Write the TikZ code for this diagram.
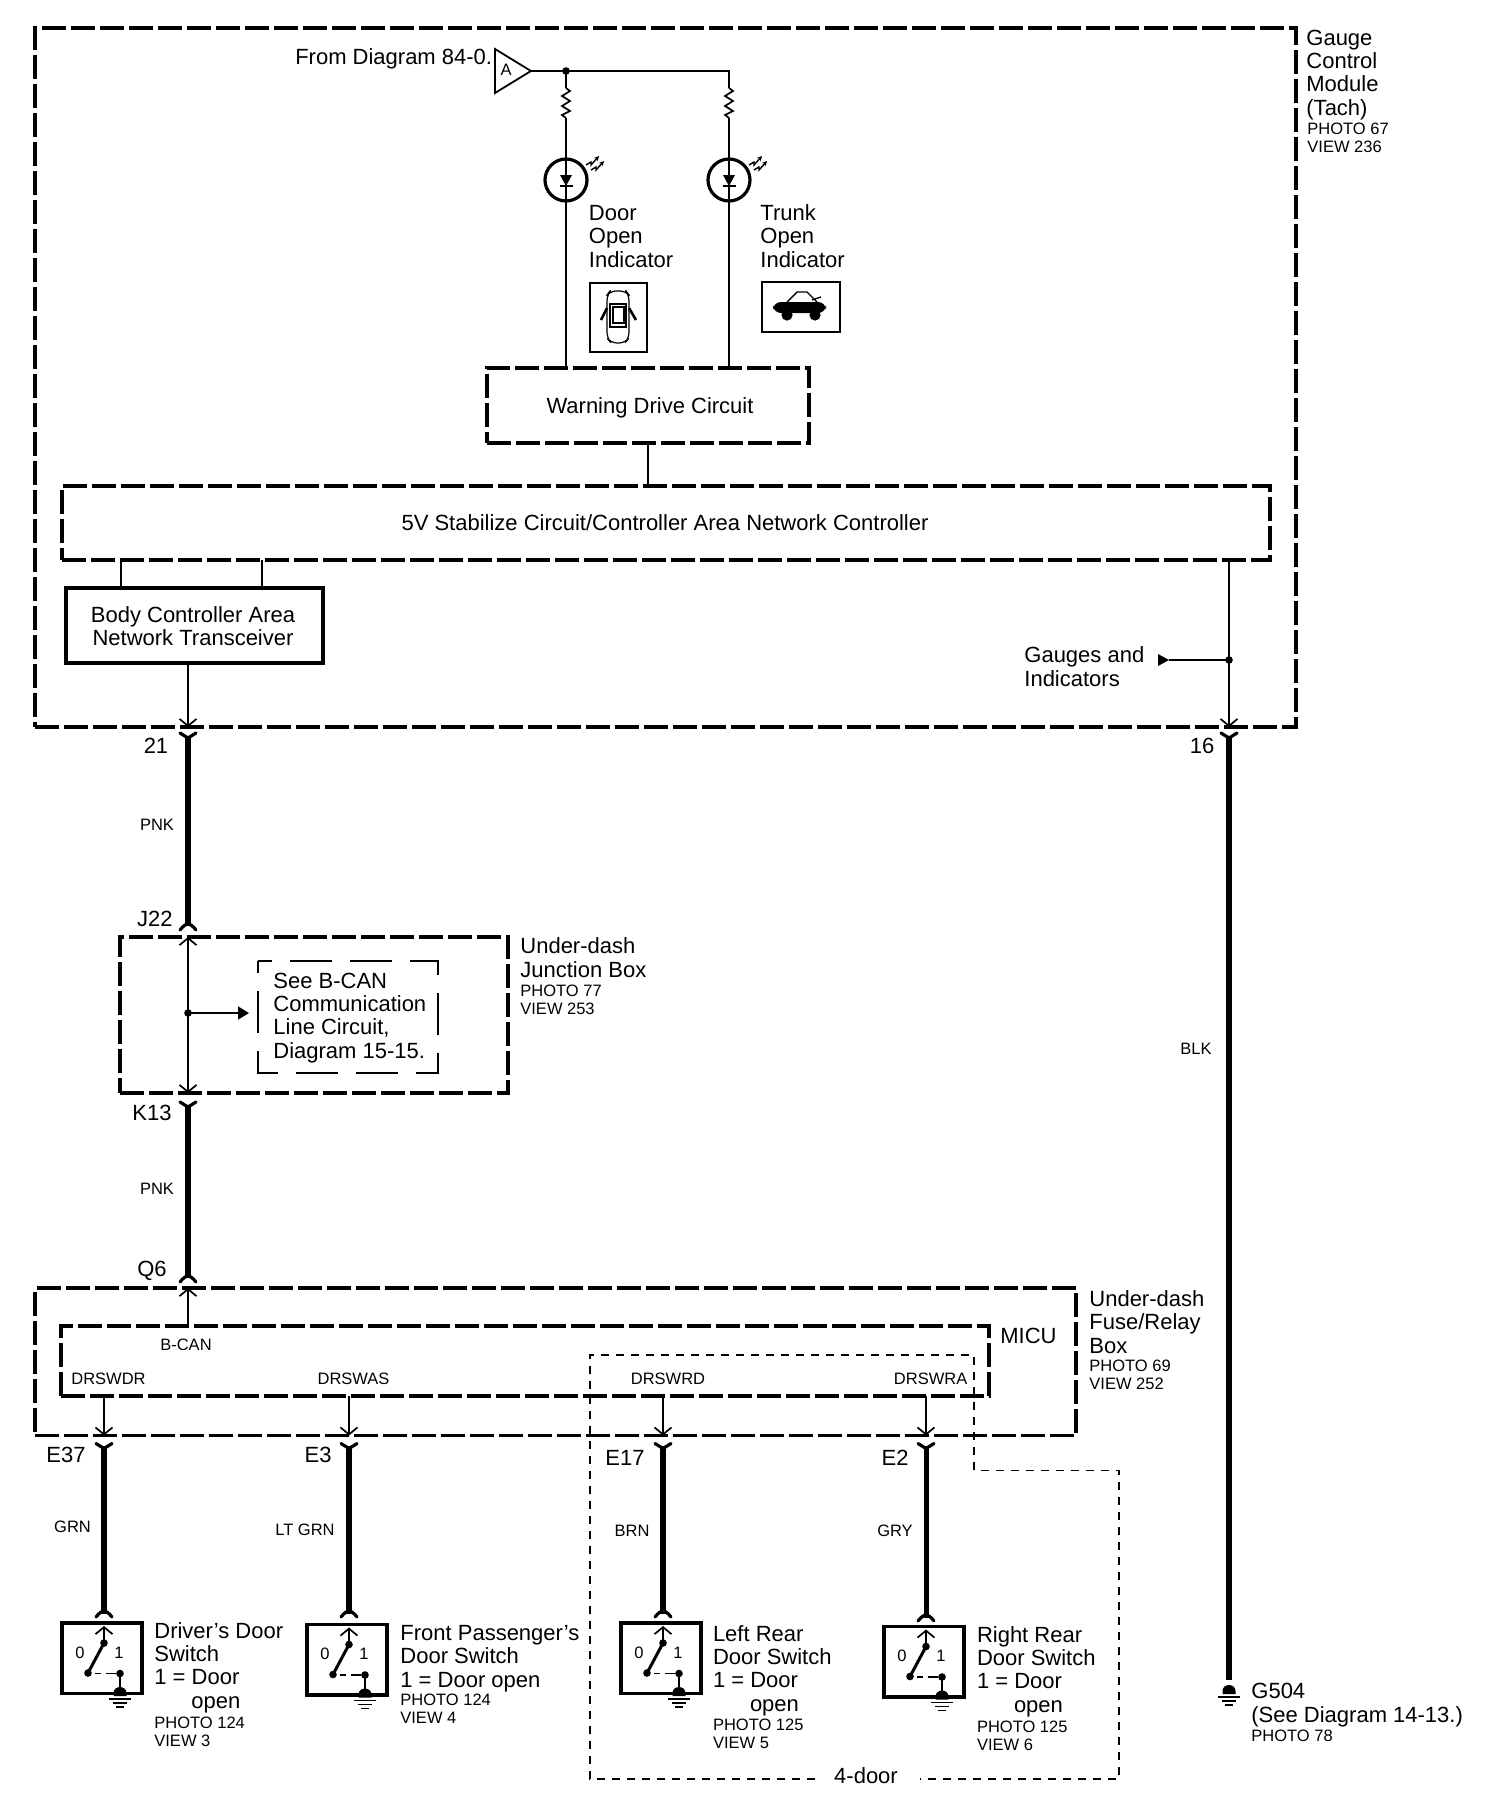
\documentclass[tikz,border=0pt]{standalone}
\usepackage{fontspec}
\setmainfont{Liberation Sans}
\usetikzlibrary{fit,arrows.meta}
\tikzset{
  wire/.style={line width=.85pt},
  power/.style={line width=3pt},
  bigdash/.style={draw,line width=1.75pt,dash pattern=on 12pt off 2.5pt,inner sep=0pt,outer sep=0pt},
  plainfit/.style={inner sep=0pt,outer sep=0pt},
  seedash/.style={line width=1pt,dash pattern=on 21pt off 9pt,dash phase=14pt},
  optdash/.style={line width=.7pt,dash pattern=on 4pt off 3.5pt},
  solidbox/.style={draw,line width=1.9pt,inner sep=0pt,outer sep=0pt},
  iconbox/.style={draw,line width=.8pt,inner sep=0pt,outer sep=0pt},
  main/.style={font=\fontsize{11}{11.65}\selectfont,inner sep=0pt,align=left},
  mainc/.style={font=\fontsize{11}{11.65}\selectfont,inner sep=0pt,align=center},
  small/.style={font=\fontsize{8.25}{9}\selectfont,inner sep=0pt,align=left},
  barb/.style={-{Straight Barb[length=3.5pt,width=8.5pt]}},
  gl/.style={line width=.9pt},
  ytop/.pic={\draw[line width=1.6pt,line cap=round,line join=round] (-8,0) -- (0,5) -- (8,0);},
  ybot/.pic={\draw[line width=1.6pt,line cap=round] (-8,6) .. controls (-5,2) and (-2,0) .. (0,0) .. controls (2,0) and (5,2) .. (8,6);},
  gnd/.pic={
    \fill (-6.5,9) -- (-6.5,6) .. controls (-6.5,2) and (-3,0) .. (0,0) .. controls (3,0) and (6.5,2) .. (6.5,6) -- (6.5,9) -- cycle;
    \draw[gl] (-11,12) -- (11,12) (-7,16) -- (7,16) (-4,20) -- (4,20);
  },
  res/.pic={\draw[wire,line join=miter] (0,0) -- (4,3) -- (-4,8) -- (4,13) -- (-4,18) -- (4,23) -- (-4,27) -- (0,30);},
  led/.pic={
    \draw[line width=1.6pt] (0,0) circle (10.5pt);
    \fill (-6,-5) -- (6,-5) -- (0,6) -- cycle;
    \draw[wire] (-6.5,6) -- (6.5,6);
    \draw[line width=.7pt,-{Stealth[length=2.5pt,width=2.5pt]}] (20,-15) -- (25,-18) -- (25,-15) -- (33,-24);
    \draw[line width=.7pt,-{Stealth[length=2.5pt,width=2.5pt]}] (25,-10) -- (30,-13) -- (30,-10) -- (38,-19);
  },
  doorsw/.pic={
    \node[solidbox,minimum width=40pt,minimum height=35.25pt] (box) at (-2,35.25) {};
    \node[small] (zero) at (-24,29.5) {0};
    \node[small] (one) at (15,29.5) {1};
    \draw[wire,barb] (0,20) -- (0,3);
    \draw[line width=1.5pt] (-16,50) -- (0,20);
    \fill (0,20) circle (1.9pt) (-16,50) circle (1.9pt) (16,50.5) circle (1.9pt);
    \draw[line width=.9pt] (-9,50.5) -- (-3,50.5) (2,50.5) -- (12,50.5);
    \draw[wire] (16,50.5) -- (16,66);
    \pic at (16,64) {gnd};
  }
}
\begin{document}
\begin{tikzpicture}[x=.5pt,y=-.5pt]
\useasboundingbox (0,0) rectangle (1504,1800);

% ---- Gauge control module
\node[bigdash,fit={(35,28) (1296,727)}] (gcm) {};
\node[main,anchor=base west] (gcmname) at (1306,115) {Gauge\\Control\\Module\\(Tach)};
\node[small,anchor=base west] (gcmref) at (1307,152) {PHOTO 67\\VIEW 236};

\node[main,anchor=base east] (fromdiag) at (492.5,64) {From Diagram 84-0.};
\draw[line width=.9pt,line join=miter] (495,49) -- (531,71) -- (495,93) -- cycle;
\node[small] (conA) at (506,70) {A};
\coordinate (apex) at (531,71);
\coordinate (jct) at (566,71);
\coordinate (corner) at (729,71);
\coordinate (r1top) at (566,88);
\coordinate (r1bot) at (566,118);
\coordinate (r2top) at (729,88);
\coordinate (r2bot) at (729,118);
\coordinate (led1) at (566,180);
\coordinate (led2) at (729,180);

\node[bigdash,fit={(487,368) (809,443)}] (warn) {};
\node[mainc] (warntxt) at (650,408) {Warning Drive Circuit};
\node[bigdash,fit={(62,486) (1270,560)}] (stab) {};
\node[mainc] (stabtxt) at (665,523) {5V Stabilize Circuit/Controller Area Network Controller};
\node[solidbox,fit={(66,588) (323,663)}] (body) {};
\node[mainc] (bodytxt) at (193,626) {Body Controller Area\\Network Transceiver};

\draw[wire] (apex) -- (corner) -- (r2top);
\draw[wire] (jct) -- (r1top);
\pic at (r1top) {res};
\pic at (r2top) {res};
\draw[wire] (r1bot) -- (r1bot |- warn.north);
\draw[wire] (r2bot) -- (r2bot |- warn.north);
\fill (jct) circle (1.9pt);
\pic at (led1) {led};
\pic at (led2) {led};

\node[main,anchor=base west] (doorlbl) at (588.5,267) {Door\\Open\\Indicator};
\node[main,anchor=base west] (trunklbl) at (760,267) {Trunk\\Open\\Indicator};

% door icon
\node[iconbox,fit={(590,283) (647,352)}] (dooricon) {};
\draw[line width=.6pt,rounded corners=3pt] (607,295) -- (610,291) -- (626,291) -- (629,295) -- (629,338) -- (625,343) -- (611,343) -- (607,338) -- cycle;
\draw[line width=.6pt] (610,304) rectangle (626,327) (613,307) rectangle (624,323);
\draw[line width=1.3pt] (607,308) -- (601,320) (629,308) -- (636,320);
% trunk icon
\node[iconbox,fit={(762,282) (840,332)}] (trunkicon) {};
\draw[line width=.7pt] (787,302) -- (797,292) -- (807,292) -- (817,302) (812,300) -- (821,297);
\fill[rounded corners=4pt] (773,302) rectangle (826,313);
\fill (787,315) circle (2.8pt) (815,315) circle (2.8pt);

\draw[wire] (warn.south) -- (warn.south |- stab.north);
\coordinate (b1) at (121,575);
\coordinate (b2) at (262,575);
\draw[line width=1.2pt] (b1 |- stab.south) -- (b1 |- body.north);
\draw[wire] (b2 |- stab.south) -- (b2 |- body.north);

\coordinate (out21) at (188,727);
\draw[wire,barb] (out21 |- body.south) -- (out21);
\coordinate (out16) at (1229,727);
\draw[wire,barb] (out16 |- stab.south) -- (out16);
\coordinate (gjct) at (1229,660);
\coordinate (gtip) at (1169,660);
\draw[wire] (gjct) -- (gtip);
\fill (gjct) circle (1.9pt);
\fill (1158,654) -- (gtip) -- (1158,666) -- cycle;
\node[main,anchor=base west] (gauges) at (1024,686) {Gauges and\\Indicators};

% ---- pin 21 to J22
\coordinate (c21) at (188,736);
\coordinate (cJ22) at (188,926);
\draw[power] (c21) -- (cJ22);
\pic at (188,733) {ytop};
\pic at (188,924) {ybot};
\node[main,anchor=base] (pin21) at (156,753) {21};
\node[small] (pnk1) at (157,825) {PNK};
\node[main,anchor=base east] (pinJ22) at (173,926.5) {J22};

% ---- under-dash junction box
\node[bigdash,fit={(120,937) (508,1093)}] (jbox) {};
\node[plainfit,fit={(258,961) (438,1073)}] (seebox) {};
\draw[seedash] (seebox.north west) -- (seebox.north east) -- (seebox.south east) -- (seebox.south west) -- cycle;
\node[main,anchor=base west] (seetxt) at (273,1058) {See B-CAN\\Communication\\Line Circuit,\\Diagram 15-15.};
\node[main,anchor=base west] (jname) at (520,977) {Under-dash\\Junction Box};
\node[small,anchor=base west] (jref) at (520,1014) {PHOTO 77\\VIEW 253};
\coordinate (jup) at (188,937);
\coordinate (jdn) at (188,1093);
\coordinate (jmid) at (188,1013);
\draw[wire,barb] (jmid) -- (jup);
\draw[wire,barb] (jmid) -- (jdn);
\fill (jmid) circle (1.9pt);
\draw[wire,-{Triangle[length=5.5pt,width=6.5pt]}] (jmid) -- (249,1013);

% ---- K13 to Q6
\coordinate (cK13) at (188,1105);
\coordinate (cQ6) at (188,1278);
\draw[power] (cK13) -- (cQ6);
\pic at (188,1102) {ytop};
\pic at (188,1276) {ybot};
\node[main,anchor=base east] (pinK13) at (172,1120) {K13};
\node[small] (pnk2) at (157,1189) {PNK};
\node[main,anchor=base east] (pinQ6) at (167,1276) {Q6};

% ---- under-dash fuse/relay box
\node[bigdash,fit={(35,1288) (1076,1435.5)}] (fuse) {};
\node[bigdash,fit={(61,1326) (989,1396)}] (micu) {};
\node[main,anchor=base west] (micuname) at (1000,1343) {MICU};
\node[main,anchor=base west] (fname) at (1089,1353) {Under-dash\\Fuse/Relay\\Box};
\node[small,anchor=base west] (fref) at (1089,1389) {PHOTO 69\\VIEW 252};
\coordinate (bcan) at (188,1326);
\draw[wire,barb] (bcan) -- (bcan |- fuse.north);
\node[small] (bcanl) at (186,1344.5) {B-CAN};
\node[small] (p1) at (108.5,1379) {DRSWDR};
\node[small] (p2) at (353.5,1379) {DRSWAS};
\node[small] (p3) at (668,1379) {DRSWRD};
\node[small] (p4) at (930.6,1379) {DRSWRA};
\coordinate (w1) at (104,1396);
\coordinate (w2) at (349,1396);
\coordinate (w3) at (663,1396);
\coordinate (w4) at (926,1396);
\draw[wire,barb] (w1) -- (w1 |- fuse.south);
\draw[wire,barb] (w2) -- (w2 |- fuse.south);
\draw[wire,barb] (w3) -- (w3 |- fuse.south);
\draw[wire,barb] (w4) -- (w4 |- fuse.south);

% ---- 4-door outline
\draw[optdash] (815,1779) -- (590,1779) -- (590,1355) -- (974,1355) -- (974,1470.5) -- (1119,1470.5) -- (1119,1779) -- (920,1779);
\node[main] (fourdoor) at (866,1776) {4-door};

% ---- switch wires
\foreach \xx/\nm/\ee in {104/a/1614, 349/b/1614, 663/c/1614, 926/d/1618}{
  \coordinate (s\nm t) at (\xx,1446);
  \coordinate (s\nm b) at (\xx,\ee);
  \pic at (\xx,1443.5) {ytop};
}
\draw[power] (sat) -- (sab);
\draw[power] (sbt) -- (sbb);
\draw[power] (sct) -- (scb);
\draw[line width=2.5pt] (sdt) -- (sdb);
\pic at (104,1611) {ybot};
\pic at (349,1611) {ybot};
\pic at (663,1611) {ybot};
\pic at (926,1615) {ybot};

\node[main,anchor=base east] (pinE37) at (86,1462.5) {E37};
\node[main,anchor=base east] (pinE3) at (332,1462.5) {E3};
\node[main,anchor=base east] (pinE17) at (645,1465) {E17};
\node[main,anchor=base east] (pinE2) at (909,1465) {E2};
\node[small] (grn) at (72.5,1527) {GRN};
\node[small] (ltgrn) at (305,1530) {LT GRN};
\node[small] (brn) at (632,1531) {BRN};
\node[small] (gry) at (895,1531) {GRY};

\pic (sw1) at (104,1623) {doorsw};
\pic[gl/.style={line width=.5pt}] (sw2) at (349,1624.5) {doorsw};
\pic (sw3) at (663,1623) {doorsw};
\pic (sw4) at (926,1626.5) {doorsw};

\node[main,anchor=base west] (t1) at (154,1708) {Driver's Door\\Switch\\1 = Door\\\hspace*{18.5pt}open};
\node[small,anchor=base west] (r1) at (154,1746) {PHOTO 124\\VIEW 3};
\node[main,anchor=base west] (t2) at (400,1687) {Front Passenger's\\Door Switch\\1 = Door open};
\node[small,anchor=base west] (r2) at (400,1723) {PHOTO 124\\VIEW 4};
\node[main,anchor=base west] (t3) at (712.6,1711) {Left Rear\\Door Switch\\1 = Door\\\hspace*{18.5pt}open};
\node[small,anchor=base west] (r3) at (712.6,1748) {PHOTO 125\\VIEW 5};
\node[main,anchor=base west] (t4) at (976.6,1712) {Right Rear\\Door Switch\\1 = Door\\\hspace*{18.5pt}open};
\node[small,anchor=base west] (r4) at (976.6,1750) {PHOTO 125\\VIEW 6};

% ---- ground wire
\coordinate (c16) at (1229,736);
\coordinate (gb) at (1229,1680);
\draw[power] (c16) -- (gb);
\pic at (1229,733) {ytop};
\pic at (1229,1685) {gnd};
\node[main,anchor=base] (pin16) at (1202,753) {16};
\node[small] (blk) at (1196,1049) {BLK};
\node[main,anchor=base west] (g504) at (1251,1722) {G504\\(See Diagram 14-13.)};
\node[small,anchor=base west] (gref) at (1251,1741) {PHOTO 78};
\end{tikzpicture}
\end{document}
